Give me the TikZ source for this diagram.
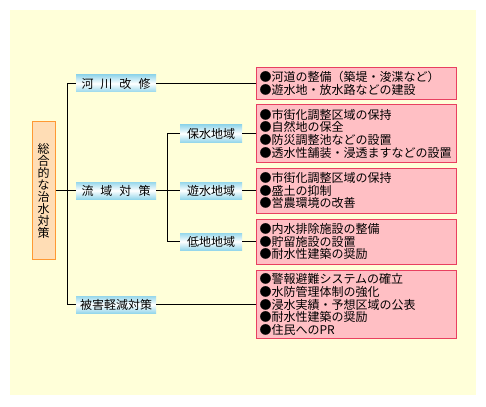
\documentclass[tikz,border=0pt]{standalone}
\usepackage{fontspec}
\setmainfont{Noto Sans CJK JP}
\usepackage{tikz}
\usetikzlibrary{positioning}
\definecolor{PaperYellow}{RGB}{255, 255, 217}
\definecolor{RootFill}{RGB}{255, 221, 181}
\definecolor{RootLine}{RGB}{255, 153, 51}
\definecolor{SkyTone}{RGB}{150, 215, 235}
\definecolor{NoteFill}{RGB}{255, 191, 196}
\definecolor{NoteLine}{RGB}{232, 64, 96}

\tikzset{
  rootbox/.style={draw=RootLine, fill=RootFill, line width=1pt, inner xsep=5.5pt,
    text width=12pt, align=center, minimum height=137pt,
    font=\fontsize{12}{12}\selectfont},
  levelbox/.style={top color=SkyTone, bottom color=SkyTone, middle color=white,
    inner sep=0pt, minimum height=17pt, font=\fontsize{12}{14}\selectfont},
  notebox/.style={draw=NoteLine, fill=NoteFill, line width=1pt, inner xsep=3pt,
    text width=194pt, align=left, font=\fontsize{12}{12.7}\selectfont},
  link/.style={line width=1pt}
}

\begin{document}
\begin{tikzpicture}[x=1pt, y=-1pt]
    % Paper
    \useasboundingbox (0,0) rectangle (486,406);
    \fill[PaperYellow] (10,10) rectangle (476,395);

    % Root
    \node[rootbox] (sogo) at (43.5,190.5) {総\\合\\的\\な\\治\\水\\対\\策};

    % First level
    \node[levelbox, minimum width=80pt] (kasen) at (116,83.5) {河\hspace{7pt}川\hspace{7pt}改\hspace{7pt}修};
    \node[levelbox, minimum width=80pt] (ryuiki) at (116,190.5) {流\hspace{7pt}域\hspace{7pt}対\hspace{7pt}策};
    \node[levelbox, minimum width=80pt] (higai) at (116,304.5) {被害軽減対策};

    % Second level
    \node[levelbox, minimum width=62pt] (hosui) at (211,133.5) {保水地域};
    \node[levelbox, minimum width=62pt] (yusui) at (211,190.5) {遊水地域};
    \node[levelbox, minimum width=62pt] (teichi) at (211,241.5) {低地地域};

    % Measures
    \node[notebox, minimum height=32pt, anchor=west] (m1) at (256,83.5)
      {●河道の整備（築堤・浚渫など）\\●遊水地・放水路などの建設};
    \node[notebox, minimum height=58pt, anchor=west] (m2) at (256,133.5)
      {●市街化調整区域の保持\\●自然地の保全\\●防災調整池などの設置\\●透水性舗装・浸透ますなどの設置};
    \node[notebox, minimum height=45pt, anchor=west] (m3) at (256,190.5)
      {●市街化調整区域の保持\\●盛土の抑制\\●営農環境の改善};
    \node[notebox, minimum height=45pt, anchor=west] (m4) at (256,241.5)
      {●内水排除施設の整備\\●貯留施設の設置\\●耐水性建築の奨励};
    \node[notebox, minimum height=68pt, anchor=west] (m5) at (256,304.5)
      {●警報避難システムの確立\\●水防管理体制の強化\\●浸水実績・予想区域の公表\\●耐水性建築の奨励\\●住民へのPR};

    % Trunks
    \coordinate (trunkA) at (67,0);
    \coordinate (trunkB) at (167,0);
    \draw[link] (kasen.west) -- (kasen.west -| trunkA) -- (higai.west -| trunkA) -- (higai.west);
    \draw[link] (sogo.east) -- (ryuiki.west);
    \draw[link] (hosui.west) -- (hosui.west -| trunkB) -- (teichi.west -| trunkB) -- (teichi.west);
    \draw[link] (ryuiki.east) -- (yusui.west);

    % Links to measures
    \draw[link] (kasen.east) -- (m1.west);
    \draw[link] (hosui.east) -- (m2.west);
    \draw[link] (yusui.east) -- (m3.west);
    \draw[link] (teichi.east) -- (m4.west);
    \draw[link] (higai.east) -- (m5.west);
  \end{tikzpicture}
\end{document}
